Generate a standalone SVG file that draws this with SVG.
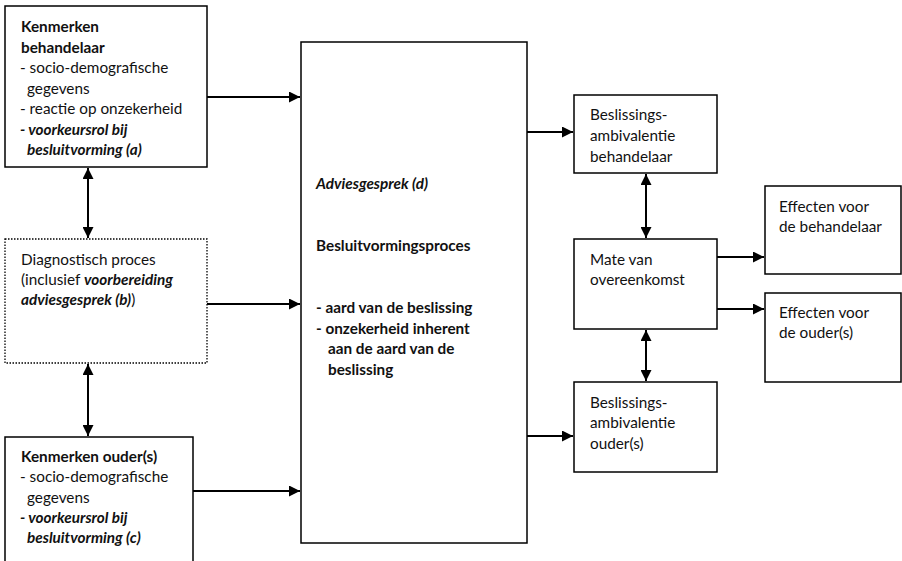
<svg xmlns="http://www.w3.org/2000/svg" width="902" height="561" viewBox="0 0 902 561">
<style>
text{font-family:Lato,"Liberation Sans",sans-serif;font-size:15.3px;fill:#111}
.b{font-weight:bold}
.bi{font-weight:bold;font-style:italic}
.box{fill:#fff;stroke:#000;stroke-width:1.5}
.dot{fill:#fff;stroke:#000;stroke-width:1.3;stroke-dasharray:1.5 1.5}
.c{stroke:#000;stroke-width:2;fill:none}
</style>
<defs>
<marker id="ah" viewBox="0 0 10 10" refX="10" refY="5" markerWidth="5.5" markerHeight="5.5" orient="auto-start-reverse" markerUnits="strokeWidth">
<path d="M0,0 L10,5 L0,10 z" fill="#000"/>
</marker>
</defs>
<g id="connectors">
<line class="c" x1="207" y1="97" x2="300" y2="97" marker-end="url(#ah)"/>
<line class="c" x1="207" y1="304" x2="300" y2="304" marker-end="url(#ah)"/>
<line class="c" x1="193" y1="491" x2="300" y2="491" marker-end="url(#ah)"/>
<line class="c" x1="88" y1="168" x2="88" y2="238" marker-start="url(#ah)" marker-end="url(#ah)"/>
<line class="c" x1="88" y1="364" x2="88" y2="436" marker-start="url(#ah)" marker-end="url(#ah)"/>
<line class="c" x1="527" y1="132" x2="573" y2="132" marker-end="url(#ah)"/>
<line class="c" x1="527" y1="436" x2="573" y2="436" marker-end="url(#ah)"/>
<line class="c" x1="646" y1="174" x2="646" y2="238" marker-start="url(#ah)" marker-end="url(#ah)"/>
<line class="c" x1="646" y1="330" x2="646" y2="381" marker-start="url(#ah)" marker-end="url(#ah)"/>
<line class="c" x1="717" y1="257" x2="764" y2="257" marker-end="url(#ah)"/>
<line class="c" x1="717" y1="309" x2="764" y2="309" marker-end="url(#ah)"/>
</g>
<g id="behandelaar">
<rect class="box" x="5" y="6" width="202" height="161"/>
<text x="21" y="32" class="b">Kenmerken</text>
<text x="21" y="52.5" class="b">behandelaar</text>
<text x="20" y="73">- socio-demografische</text>
<text x="27" y="93.5">gegevens</text>
<text x="20" y="114">- reactie op onzekerheid</text>
<text x="20" y="134.5" class="bi">- voorkeursrol bij</text>
<text x="27" y="155" class="bi">besluitvorming (a)</text>
</g>
<g id="diagnostisch">
<rect class="dot" x="5" y="239" width="202" height="124"/>
<text x="21" y="265">Diagnostisch proces</text>
<text x="21" y="285">(inclusief <tspan class="bi">voorbereiding</tspan></text>
<text x="21" y="305"><tspan class="bi">adviesgesprek (b)</tspan>)</text>
</g>
<g id="ouders">
<path class="box" d="M5,565 V437 H193 V565"/>
<text x="21" y="462" class="b">Kenmerken ouder(s)</text>
<text x="20" y="482">- socio-demografische</text>
<text x="27" y="503">gegevens</text>
<text x="20" y="523" class="bi">- voorkeursrol bij</text>
<text x="27" y="543" class="bi">besluitvorming (c)</text>
</g>
<g id="advies">
<rect class="box" x="301" y="42" width="226" height="501"/>
<text x="316" y="189" class="bi">Adviesgesprek (d)</text>
<text x="316" y="251" class="b">Besluitvormingsproces</text>
<text x="316" y="313" class="b">- aard van de beslissing</text>
<text x="316" y="334" class="b">- onzekerheid inherent</text>
<text x="328" y="354" class="b">aan de aard van de</text>
<text x="328" y="375" class="b">beslissing</text>
</g>
<g id="ambi-behandelaar">
<rect class="box" x="574" y="95" width="143" height="78"/>
<text x="590" y="120">Beslissings-</text>
<text x="590" y="141">ambivalentie</text>
<text x="590" y="162">behandelaar</text>
</g>
<g id="overeenkomst">
<rect class="box" x="574" y="239" width="143" height="90"/>
<text x="590" y="265">Mate van</text>
<text x="590" y="285">overeenkomst</text>
</g>
<g id="ambi-ouders">
<rect class="box" x="574" y="382" width="143" height="90"/>
<text x="590" y="408">Beslissings-</text>
<text x="590" y="428">ambivalentie</text>
<text x="590" y="449">ouder(s)</text>
</g>
<g id="effect-behandelaar">
<rect class="box" x="765" y="186" width="136" height="88"/>
<text x="779" y="212">Effecten voor</text>
<text x="779" y="232">de behandelaar</text>
</g>
<g id="effect-ouders">
<rect class="box" x="765" y="293" width="136" height="89"/>
<text x="779" y="318">Effecten voor</text>
<text x="779" y="338">de ouder(s)</text>
</g>
</svg>
